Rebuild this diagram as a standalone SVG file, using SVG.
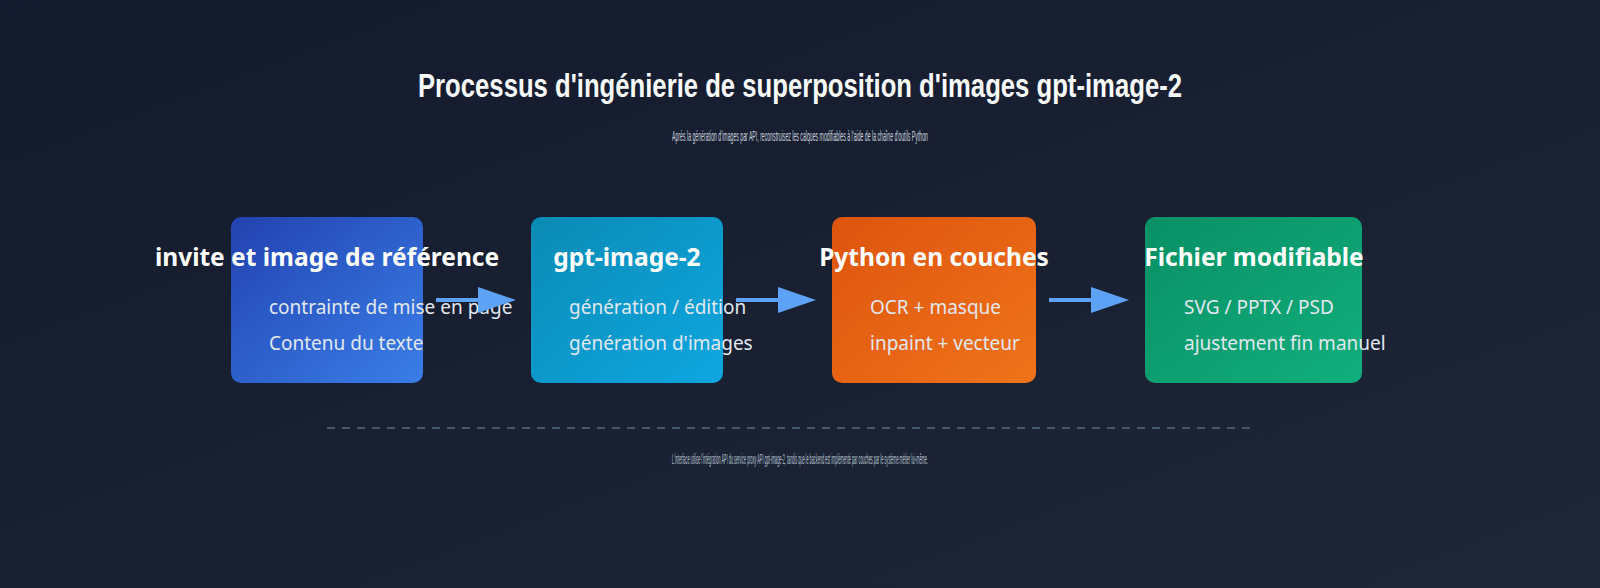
<svg xmlns="http://www.w3.org/2000/svg" width="1600" height="588" viewBox="0 0 1600 588">
  <defs>
    <linearGradient id="bg" x1="0" y1="0" x2="1" y2="1">
      <stop offset="0" stop-color="#131a2d"/>
      <stop offset="1" stop-color="#1e2637"/>
    </linearGradient>
    <linearGradient id="g1" x1="0" y1="0" x2="1" y2="1">
      <stop offset="0" stop-color="#2242b0"/>
      <stop offset="1" stop-color="#3a7ee8"/>
    </linearGradient>
    <linearGradient id="g2" x1="0" y1="0" x2="1" y2="1">
      <stop offset="0" stop-color="#0a8bb4"/>
      <stop offset="1" stop-color="#0ea6e0"/>
    </linearGradient>
    <linearGradient id="g3" x1="0" y1="0" x2="1" y2="1">
      <stop offset="0" stop-color="#dd540e"/>
      <stop offset="1" stop-color="#f0731a"/>
    </linearGradient>
    <linearGradient id="g4" x1="0" y1="0" x2="1" y2="1">
      <stop offset="0" stop-color="#099065"/>
      <stop offset="1" stop-color="#11ae7c"/>
    </linearGradient>
    <marker id="head" markerUnits="userSpaceOnUse" markerWidth="38" markerHeight="26" refX="2" refY="13" orient="auto">
      <path d="M0,0 L38,13 L0,26 z" fill="#5ea2f6"/>
    </marker>
    <style>
      .title { font-family: "Liberation Sans", Arial, sans-serif; font-weight: bold; font-size: 34px; fill: #f8fafc; text-anchor: middle; }
      .sub { font-family: "Liberation Sans", Arial, sans-serif; font-size: 14px; fill: #ccd4de; text-anchor: middle; }
      .foot { font-family: "Liberation Sans", Arial, sans-serif; font-size: 14px; fill: #b8c2cf; text-anchor: middle; }
      .box { stroke: none; }
      .ntitle { font-family: "Noto Sans", "Open Sans", sans-serif; font-weight: bold; font-size: 24.5px; fill: #ffffff; text-anchor: middle; }
      .item { font-family: "Noto Sans", "Open Sans", sans-serif; font-size: 19px; fill: #e2e8f0; }
      .conn { stroke: #5ea2f6; stroke-width: 4; fill: none; marker-end: url(#head); }
      .sep { stroke: #46566c; stroke-width: 2; stroke-dasharray: 8 7; }
    </style>
  </defs>

  <rect x="0" y="0" width="1600" height="588" fill="url(#bg)"/>

  <text class="title" x="800" y="97" textLength="764" lengthAdjust="spacingAndGlyphs">Processus d'ingénierie de superposition d'images gpt-image-2</text>
  <text class="sub" transform="translate(800,141) scale(0.3,1)" x="0" y="0" textLength="853" lengthAdjust="spacingAndGlyphs">Après la génération d'images par API, reconstruisez les calques modifiables à l'aide de la chaîne d'outils Python</text>

  <g id="node-input">
    <rect class="box" x="231" y="217" width="192" height="166" rx="10" fill="url(#g1)"/>
    <text class="ntitle" x="327" y="266">invite et image de référence</text>
    <text class="item" x="269" y="314">contrainte de mise en page</text>
    <text class="item" x="269" y="350">Contenu du texte</text>
  </g>

  <g id="node-gpt">
    <rect class="box" x="531" y="217" width="192" height="166" rx="10" fill="url(#g2)"/>
    <text class="ntitle" x="627" y="266">gpt-image-2</text>
    <text class="item" x="569" y="314">génération / édition</text>
    <text class="item" x="569" y="350">génération d'images</text>
  </g>

  <g id="node-python">
    <rect class="box" x="832" y="217" width="204" height="166" rx="10" fill="url(#g3)"/>
    <text class="ntitle" x="934" y="266">Python en couches</text>
    <text class="item" x="870" y="314">OCR + masque</text>
    <text class="item" x="870" y="350">inpaint + vecteur</text>
  </g>

  <g id="node-file">
    <rect class="box" x="1145" y="217" width="217" height="166" rx="10" fill="url(#g4)"/>
    <text class="ntitle" x="1254" y="266">Fichier modifiable</text>
    <text class="item" x="1184" y="314">SVG / PPTX / PSD</text>
    <text class="item" x="1184" y="350">ajustement fin manuel</text>
  </g>

  <g id="connectors">
    <line class="conn" x1="436" y1="300" x2="480" y2="300"/>
    <line class="conn" x1="736" y1="300" x2="780" y2="300"/>
    <line class="conn" x1="1049" y1="300" x2="1093" y2="300"/>
  </g>

  <line class="sep" x1="327" y1="428" x2="1257" y2="428"/>
  <text class="foot" transform="translate(800,464) scale(0.3,1)" x="0" y="0" textLength="853" lengthAdjust="spacingAndGlyphs">L'interface utilise l'intégration API du service proxy API gpt-image-2, tandis que le backend est implémenté par couches par le système métier lui-même.</text>
</svg>
